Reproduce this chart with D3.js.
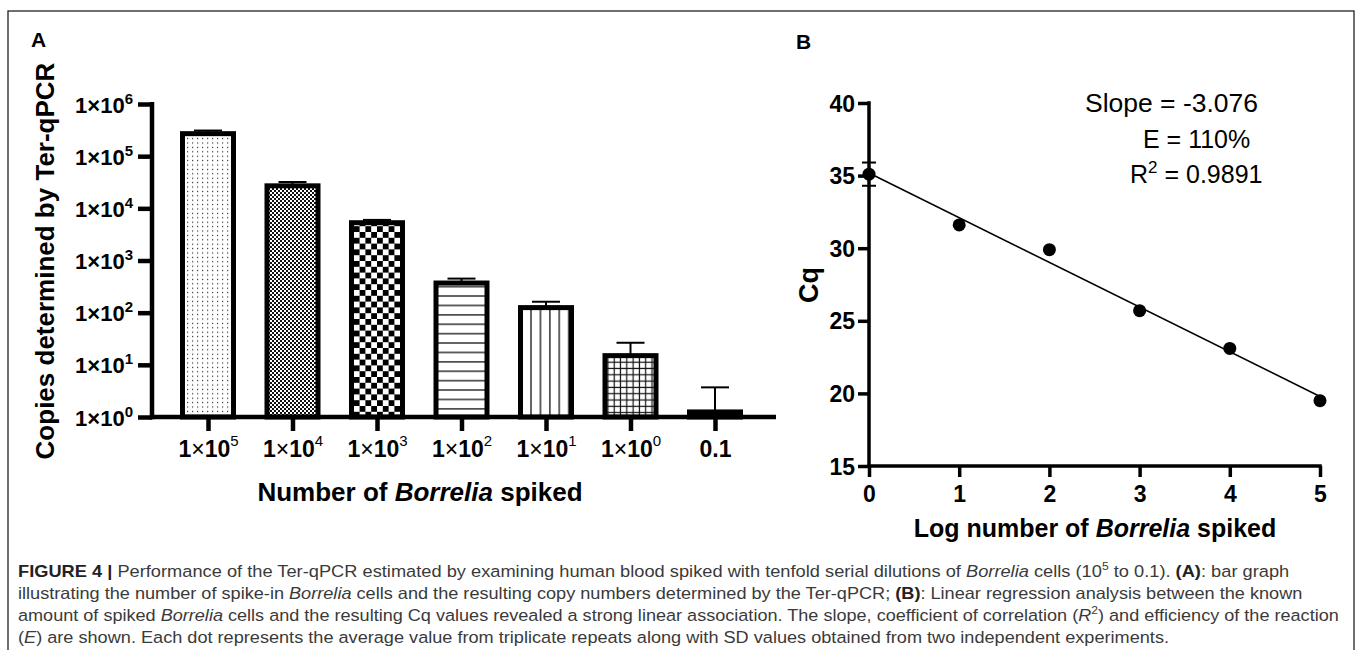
<!DOCTYPE html>
<html><head><meta charset="utf-8">
<script src="https://cdn.jsdelivr.net/npm/d3@7"></script>
<style>body{margin:0;background:#fff}svg{display:block}</style>
</head><body><svg id="c" width="1357" height="650"></svg>
<script>
// ---------- DATA ----------
const categories = ["1e5", "1e4", "1e3", "1e2", "1e1", "1e0", "0.1"];
const categoryBase = ["1×10", "1×10", "1×10", "1×10", "1×10", "1×10", "0.1"];
const categoryExp = ["5", "4", "3", "2", "1", "0", ""];
const copies = [2.7e5, 2.7e4, 5.3e3, 370, 125, 15, 1.25];
const copiesUpper = [3.1e5, 3.2e4, 6.0e3, 450, 162, 26.5, 3.7];
const yTicksA = [1, 10, 100, 1e3, 1e4, 1e5, 1e6];
const yTickExpA = ["0", "1", "2", "3", "4", "5", "6"];

const logSpiked = [0, 1, 2, 3, 4, 5];
const cqMean = [35.1, 31.6, 29.9, 25.7, 23.1, 19.5];
const cqSD = [0.8, 0, 0, 0, 0, 0];
const xTicksB = [0, 1, 2, 3, 4, 5];
const yTicksB = [15, 20, 25, 30, 35, 40];
const statLines = ["Slope = -3.076", "E = 110%", "R"];

// ---------- SETUP ----------
const svg = d3.select("#c");
const FONT = "'Liberation Sans', Arial, Helvetica, sans-serif";
const INK = "#000";

// frame
svg.append("rect").attr("x", 8).attr("y", 11).attr("width", 1346).attr("height", 700)
  .attr("fill", "none").attr("stroke", "#222").attr("stroke-width", 1.3);

// ---------- PATTERNS ----------
const defs = svg.append("defs");
function pat(id, w, h, draw) {
  const p = defs.append("pattern").attr("id", id).attr("patternUnits", "userSpaceOnUse")
    .attr("width", w).attr("height", h);
  p.append("rect").attr("width", w).attr("height", h).attr("fill", "#fff");
  draw(p);
}
pat("p0", 5, 4.4, p => p.append("rect").attr("x", 2).attr("y", 1.6).attr("width", 1.2).attr("height", 1.2).attr("fill", "#333"));
pat("p1", 4, 4, p => { p.append("rect").attr("width", 2).attr("height", 2).attr("fill", "#111");
  p.append("rect").attr("x", 2).attr("y", 2).attr("width", 2).attr("height", 2).attr("fill", "#111"); });
pat("p2", 11.6, 11.6, p => { p.append("rect").attr("width", 5.8).attr("height", 5.8).attr("fill", "#000");
  p.append("rect").attr("x", 5.8).attr("y", 5.8).attr("width", 5.8).attr("height", 5.8).attr("fill", "#000"); });
pat("p3", 10, 9.4, p => p.append("rect").attr("y", 4).attr("width", 10).attr("height", 1.3).attr("fill", "#111"));
pat("p4", 9.4, 10, p => p.append("rect").attr("x", 4).attr("width", 1.3).attr("height", 10).attr("fill", "#111"));
pat("p5", 6.3, 6.3, p => { p.append("rect").attr("y", 2.5).attr("width", 6.3).attr("height", 1.2).attr("fill", "#111");
  p.append("rect").attr("x", 2.5).attr("width", 1.2).attr("height", 6.3).attr("fill", "#111"); });
const fills = ["url(#p0)", "url(#p1)", "url(#p2)", "url(#p3)", "url(#p4)", "url(#p5)", "#000"];

// ---------- PANEL A ----------
const A = svg.append("g");
const axXA = 152, baseA = 417;
const yA = d3.scaleLog().domain([1, 1e6]).range([baseA, 104]);
const xA = d3.scalePoint().domain(categories).range([165.75, 757.25]).padding(0.5);
const barW = 51;

A.append("text").attr("x", 31).attr("y", 47).text("A")
  .attr("font-family", FONT).attr("font-weight", "bold").attr("font-size", 21);

// error bars (upper only)
categories.forEach((c, i) => {
  const cx = xA(c);
  A.append("line").attr("x1", cx).attr("x2", cx).attr("y1", yA(copies[i])).attr("y2", yA(copiesUpper[i]))
    .attr("stroke", INK).attr("stroke-width", 2);
  A.append("line").attr("x1", cx - 14).attr("x2", cx + 14).attr("y1", yA(copiesUpper[i])).attr("y2", yA(copiesUpper[i]))
    .attr("stroke", INK).attr("stroke-width", 2);
});
// bars
A.selectAll("rect.bar").data(categories).join("rect").attr("class", "bar")
  .attr("x", c => xA(c) - barW / 2)
  .attr("y", (c, i) => yA(copies[i]))
  .attr("width", barW)
  .attr("height", (c, i) => baseA - yA(copies[i]))
  .attr("fill", (c, i) => fills[i])
  .attr("stroke", INK).attr("stroke-width", 5);

// y axis
const gyA = A.append("g").attr("transform", `translate(${axXA},0)`)
  .call(d3.axisLeft(yA).tickValues(yTicksA).tickSize(14).tickSizeOuter(0).tickFormat(""));
gyA.select(".domain").remove();
gyA.selectAll(".tick line").attr("stroke", INK).attr("stroke-width", 4.5);
gyA.selectAll(".tick").each(function(d, i) {
  const t = d3.select(this).append("text").attr("x", -19).attr("y", 8)
    .attr("text-anchor", "end").attr("fill", INK)
    .attr("font-family", FONT).attr("font-weight", "bold").attr("font-size", 22);
  t.append("tspan").text("1×10");
  t.append("tspan").attr("dy", -9).attr("font-size", 15).text(yTickExpA[i]);
});
A.append("line").attr("x1", axXA).attr("x2", axXA).attr("y1", yA(1e6) - 2).attr("y2", baseA + 2.25)
  .attr("stroke", INK).attr("stroke-width", 4.5);

// x axis
const gxA = A.append("g").attr("transform", `translate(0,${baseA})`)
  .call(d3.axisBottom(xA).tickSize(14).tickSizeOuter(0).tickFormat(""));
gxA.select(".domain").remove();
gxA.selectAll(".tick line").attr("stroke", INK).attr("stroke-width", 4.5);
gxA.selectAll(".tick").each(function(d, i) {
  const t = d3.select(this).append("text").attr("y", 40)
    .attr("text-anchor", "middle").attr("fill", INK)
    .attr("font-family", FONT).attr("font-weight", "bold").attr("font-size", 23);
  if (categoryExp[i]) {
    const base = categoryBase[i];
    t.append("tspan").text(base.slice(0, 1));
    t.append("tspan").attr("font-weight", "normal").text(base.slice(1, 2));
    t.append("tspan").text(base.slice(2));
    t.append("tspan").attr("dy", -11).attr("font-size", 15).attr("font-weight", "normal").text(categoryExp[i]);
  } else {
    t.append("tspan").text(categoryBase[i]);
  }
});
A.append("line").attr("x1", axXA - 2.25).attr("x2", 776).attr("y1", baseA).attr("y2", baseA)
  .attr("stroke", INK).attr("stroke-width", 4.5);

// titles
const tA = A.append("text").attr("x", 420).attr("y", 501).attr("text-anchor", "middle")
  .attr("font-family", FONT).attr("font-weight", "bold").attr("font-size", 26).attr("fill", INK);
tA.append("tspan").text("Number of ");
tA.append("tspan").attr("font-style", "italic").text("Borrelia");
tA.append("tspan").text(" spiked");
A.append("text").attr("transform", "translate(54,261) rotate(-90)").attr("text-anchor", "middle")
  .attr("font-family", FONT).attr("font-weight", "bold").attr("font-size", 26).attr("fill", INK)
  .text("Copies determined by Ter-qPCR");

// ---------- PANEL B ----------
const B = svg.append("g");
const xB = d3.scaleLinear().domain([0, 5]).range([869, 1320]);
const yB = d3.scaleLinear().domain([15, 40]).range([466, 103]);

B.append("text").attr("x", 796).attr("y", 49).text("B")
  .attr("font-family", FONT).attr("font-weight", "bold").attr("font-size", 21);

const gyB = B.append("g").attr("transform", `translate(${xB(0)},0)`)
  .call(d3.axisLeft(yB).tickValues(yTicksB).tickSize(11).tickSizeOuter(0).tickFormat(""));
gyB.select(".domain").remove();
gyB.selectAll(".tick line").attr("stroke", INK).attr("stroke-width", 3.5);
gyB.selectAll(".tick").append("text").attr("x", -14).attr("y", 8).attr("text-anchor", "end")
  .attr("font-family", FONT).attr("font-weight", "bold").attr("font-size", 23).attr("fill", INK)
  .text((d, i) => yTicksB[i]);
B.append("line").attr("x1", xB(0)).attr("x2", xB(0)).attr("y1", yB(40) - 1.75).attr("y2", yB(15))
  .attr("stroke", INK).attr("stroke-width", 3.5);

const gxB = B.append("g").attr("transform", `translate(0,${yB(15)})`)
  .call(d3.axisBottom(xB).tickValues(xTicksB).tickSize(11).tickSizeOuter(0).tickFormat(""));
gxB.select(".domain").remove();
gxB.selectAll(".tick line").attr("stroke", INK).attr("stroke-width", 3.5);
gxB.selectAll(".tick").append("text").attr("y", 36).attr("text-anchor", "middle")
  .attr("font-family", FONT).attr("font-weight", "bold").attr("font-size", 23).attr("fill", INK)
  .text((d, i) => xTicksB[i]);
B.append("line").attr("x1", xB(0) - 1.75).attr("x2", xB(5) + 1.75).attr("y1", yB(15)).attr("y2", yB(15))
  .attr("stroke", INK).attr("stroke-width", 3.5);

// regression line (least squares from data)
const mx = d3.mean(logSpiked), my = d3.mean(cqMean);
const slope = d3.sum(logSpiked.map((x, i) => (x - mx) * (cqMean[i] - my))) / d3.sum(logSpiked.map(x => (x - mx) ** 2));
const icpt = my - slope * mx;
B.append("line").attr("x1", xB(0)).attr("y1", yB(icpt)).attr("x2", xB(5)).attr("y2", yB(icpt + slope * 5))
  .attr("stroke", INK).attr("stroke-width", 1.6);

// error bars
logSpiked.forEach((x, i) => {
  if (!cqSD[i]) return;
  const cx = xB(x);
  B.append("line").attr("x1", cx).attr("x2", cx).attr("y1", yB(cqMean[i] - cqSD[i])).attr("y2", yB(cqMean[i] + cqSD[i]))
    .attr("stroke", INK).attr("stroke-width", 2);
  [cqMean[i] - cqSD[i], cqMean[i] + cqSD[i]].forEach(v =>
    B.append("line").attr("x1", cx - 7).attr("x2", cx + 7).attr("y1", yB(v)).attr("y2", yB(v))
      .attr("stroke", INK).attr("stroke-width", 2));
});
B.selectAll("circle.pt").data(logSpiked).join("circle").attr("class", "pt")
  .attr("cx", d => xB(d)).attr("cy", (d, i) => yB(cqMean[i])).attr("r", 6.5).attr("fill", INK);

// stats
const st = B.append("g").attr("font-family", FONT).attr("font-size", 25).attr("fill", INK);
st.append("text").attr("x", 1085).attr("y", 112).attr("textLength", 173).attr("lengthAdjust", "spacingAndGlyphs").text(statLines[0]);
st.append("text").attr("x", 1143).attr("y", 148).text(statLines[1]);
const r2 = st.append("text").attr("x", 1130).attr("y", 183);
r2.append("tspan").text(statLines[2]);
r2.append("tspan").attr("dy", -10).attr("font-size", 17).text("2");
r2.append("tspan").attr("dy", 10).text(" = 0.9891");

// titles
const tB = B.append("text").attr("x", 1095).attr("y", 537).attr("text-anchor", "middle")
  .attr("font-family", FONT).attr("font-weight", "bold").attr("font-size", 25).attr("fill", INK);
tB.append("tspan").text("Log number of ");
tB.append("tspan").attr("font-style", "italic").text("Borrelia");
tB.append("tspan").text(" spiked");
B.append("text").attr("transform", "translate(818,285) rotate(-90)").attr("text-anchor", "middle")
  .attr("font-family", FONT).attr("font-weight", "bold").attr("font-size", 27).attr("fill", INK)
  .text("Cq");

// ---------- CAPTION ----------
const capLines = [
  { y: 577, end: 1290, parts: [["b", "FIGURE 4 | "], ["n", "Performance of the Ter-qPCR estimated by examining human blood spiked with tenfold serial dilutions of "], ["i", "Borrelia"], ["n", " cells (10"], ["s", "5"], ["n", " to 0.1). "], ["b", "(A)"], ["n", ": bar graph"]] },
  { y: 599, end: 1303, parts: [["n", "illustrating the number of spike-in "], ["i", "Borrelia"], ["n", " cells and the resulting copy numbers determined by the Ter-qPCR; "], ["b", "(B)"], ["n", ": Linear regression analysis between the known"]] },
  { y: 621, end: 1340, parts: [["n", "amount of spiked "], ["i", "Borrelia"], ["n", " cells and the resulting Cq values revealed a strong linear association. The slope, coefficient of correlation ("], ["i", "R"], ["s", "2"], ["n", ") and efficiency of the reaction"]] },
  { y: 643, end: 1170, parts: [["n", "("], ["i", "E"], ["n", ") are shown. Each dot represents the average value from triplicate repeats along with SD values obtained from two independent experiments."]] }
];
const capX = 18;
capLines.forEach(L => {
  const t = svg.append("text").attr("font-family", FONT).attr("font-size", 16.5).attr("fill", "#3a3a3a");
  let sup = false;
  L.parts.forEach(([k, s]) => {
    const ts = t.append("tspan").text(s);
    if (k === "b") ts.attr("font-weight", "bold").attr("fill", "#222");
    if (k === "i") ts.attr("font-style", "italic");
    if (k === "s") { ts.attr("dy", -7).attr("font-size", 11); sup = true; }
    else if (sup) { ts.attr("dy", 7); sup = false; }
  });
  const w = t.node().getBBox().width;
  const k = (L.end - capX) / w;
  t.attr("transform", `translate(${capX},${L.y}) scale(${k},1)`);
});
</script>
</body></html>
